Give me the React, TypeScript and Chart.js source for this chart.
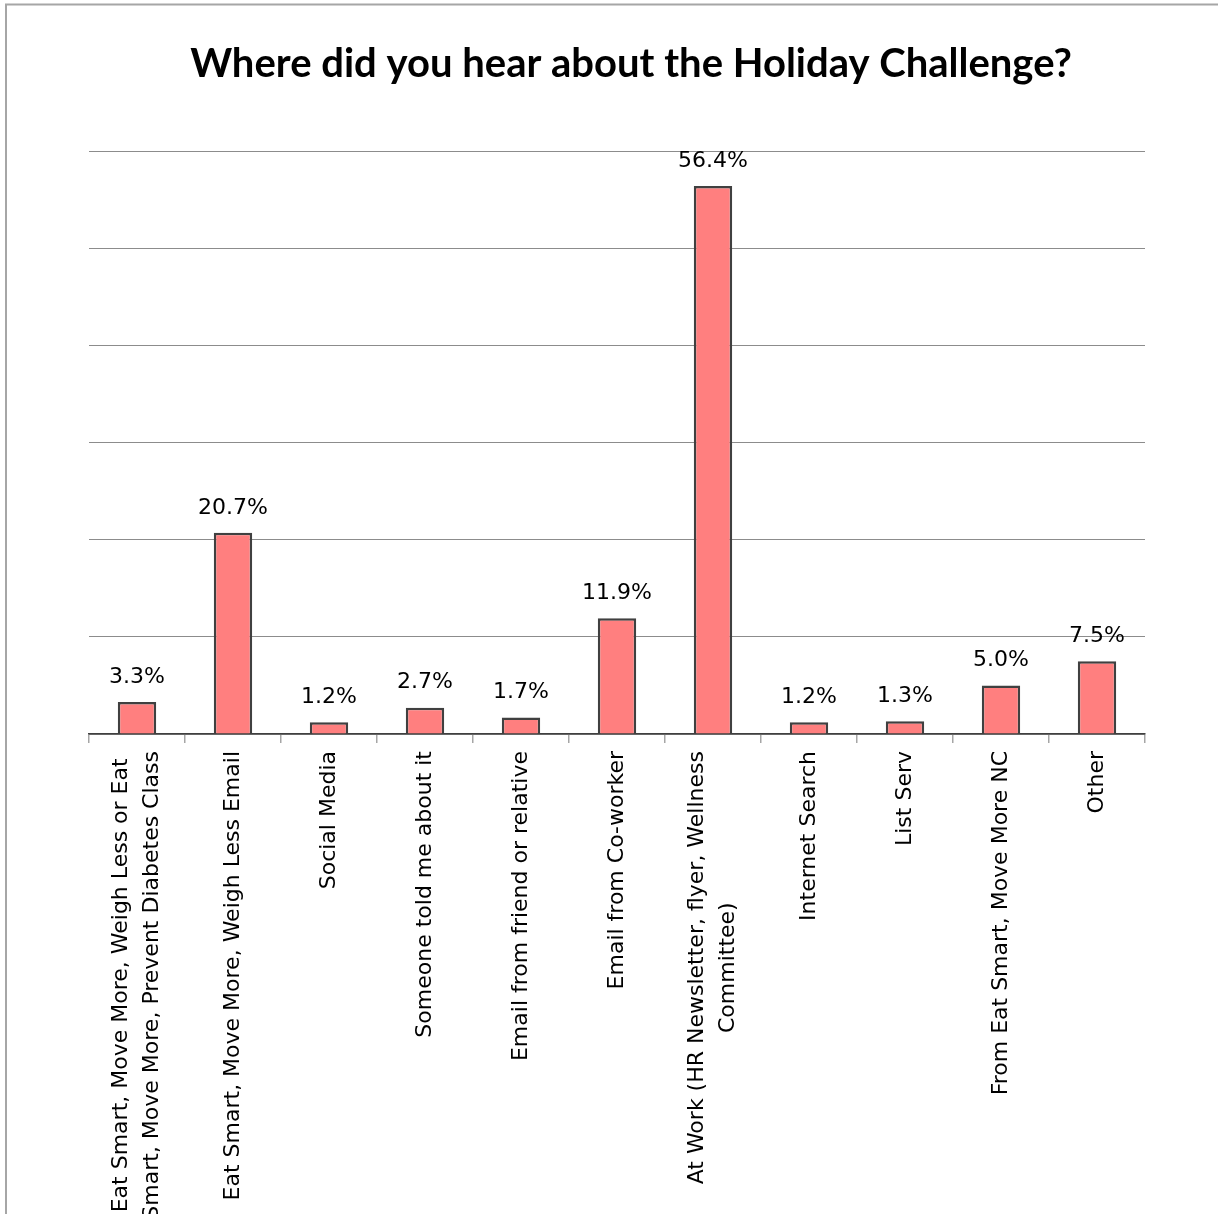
import React, { useEffect, useRef } from "react";
import { Chart, registerables } from "chart.js";

Chart.register(...registerables);

const TITLE = "Where did you hear about the Holiday Challenge?";
const categories: (string | string[])[] = [
  ["Eat Smart, Move More, Weigh Less or Eat", "Smart, Move More, Prevent Diabetes Class"],
  "Eat Smart, Move More, Weigh Less Email",
  "Social Media",
  "Someone told me about it",
  "Email from friend or relative",
  "Email from Co-worker",
  ["At Work (HR Newsletter, flyer, Wellness", "Committee)"],
  "Internet Search",
  "List Serv",
  "From Eat Smart, Move More NC",
  "Other",
];
const values = [3.3, 20.7, 1.2, 2.7, 1.7, 11.9, 56.4, 1.2, 1.3, 5.0, 7.5];
const yMax = 60;
const yStep = 10;

const W = 1218;
const H = 1214;
const LABEL_FONT = 22;
const LABEL_LH = 1.4;

const frameAndTitle = {
  id: "frameAndTitle",
  beforeDraw(chart: any) {
    const ctx = chart.ctx;
    ctx.save();
    ctx.fillStyle = "#ffffff";
    ctx.fillRect(0, 0, chart.width, chart.height);
    ctx.strokeStyle = "#a6a6a6";
    ctx.lineWidth = 2;
    ctx.beginPath();
    ctx.moveTo(6, chart.height + 5);
    ctx.lineTo(6, 4.5);
    ctx.lineTo(chart.width + 5, 4.5);
    ctx.stroke();
    // center multi-line rotated tick labels on their category, lines centered on each other
    const xs = chart.scales.x;
    const items = xs.getLabelItems(chart.chartArea);
    const lh = LABEL_FONT * LABEL_LH;
    items.forEach((it: any) => {
      const n = Array.isArray(it.label) ? it.label.length : 1;
      if (n > 1 && !it._centered) {
        ctx.font = it.font.string;
        let maxW = 0;
        it.label.forEach((l: string) => {
          maxW = Math.max(maxW, ctx.measureText(l).width);
        });
        it.options.translation[0] -= ((n - 1) * lh) / 2;
        it.options.translation[1] += maxW / 2;
        it.options.textAlign = "center";
        it._centered = true;
      }
    });
    ctx.restore();
  },
  afterDraw(chart: any) {
    const ctx = chart.ctx;
    ctx.save();
    ctx.fillStyle = "#000000";
    ctx.font = "bold 40px Lato";
    ctx.textAlign = "center";
    ctx.textBaseline = "middle";
    ctx.fillText(TITLE, 631, 64);
    ctx.restore();
  },
};

const dataLabels = {
  id: "dataLabels",
  afterDatasetsDraw(chart: any) {
    const ctx = chart.ctx;
    const meta = chart.getDatasetMeta(0);
    ctx.save();
    ctx.fillStyle = "#000000";
    ctx.font = "22px 'DejaVu Sans'";
    ctx.textAlign = "center";
    ctx.textBaseline = "middle";
    meta.data.forEach((el: any, i: number) => {
      ctx.fillText(values[i].toFixed(1) + "%", el.x, el.y - 25);
    });
    ctx.restore();
  },
};

export default function App() {
  const ref = useRef<HTMLCanvasElement | null>(null);
  useEffect(() => {
    if (!ref.current) return;
    const chart = new Chart(ref.current, {
      type: "bar",
      data: {
        labels: categories,
        datasets: [
          {
            data: values,
            backgroundColor: "#ff7f7f",
            borderColor: "#404040",
            borderWidth: 2.5,
            barPercentage: 0.4,
            categoryPercentage: 1,
          },
        ],
      },
      options: {
        responsive: false,
        animation: false,
        layout: { padding: { left: 89, right: 73, top: 151, bottom: 0 } },
        plugins: {
          legend: { display: false },
          title: { display: false },
          tooltip: { enabled: false },
        },
        scales: {
          x: {
            afterFit(scale: any) {
              scale.height = H - 734;
            },
            border: { display: true, color: "#404040", width: 1.5 },
            grid: {
              offset: true,
              drawOnChartArea: false,
              drawTicks: true,
              tickLength: 9,
              color: "#a6a6a6",
              lineWidth: 1.5,
            },
            ticks: {
              maxRotation: 90,
              minRotation: 90,
              autoSkip: false,
              padding: 8,
              color: "#000000",
              font: { family: "'DejaVu Sans'", size: LABEL_FONT, lineHeight: LABEL_LH },
            },
          },
          y: {
            min: 0,
            max: yMax,
            afterFit(scale: any) {
              scale.width = 0;
            },
            border: { display: false },
            grid: { color: "#8c8c8c", lineWidth: 1, drawTicks: false },
            ticks: { display: false, stepSize: yStep },
          },
        },
      },
      plugins: [frameAndTitle, dataLabels],
    });
    return () => chart.destroy();
  }, []);
  return (
    <div style={{ position: "absolute", left: 0, top: 0, width: W, height: H, overflow: "hidden" }}>
      <canvas ref={ref} width={W} height={H} style={{ display: "block", width: W, height: H }} />
    </div>
  );
}
